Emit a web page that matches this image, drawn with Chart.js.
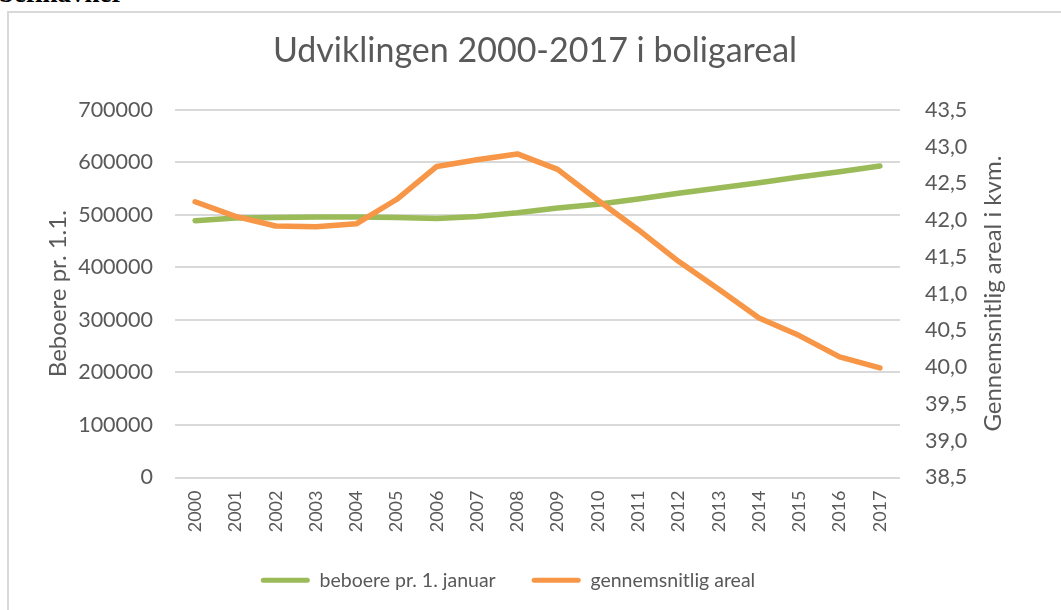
<!DOCTYPE html>
<html lang="da">
<head>
<meta charset="utf-8">
<script src="https://cdn.jsdelivr.net/npm/chart.js@4"></script>
<style>
  body { margin: 0; background: #fff; width: 1061px; height: 610px; overflow: hidden; position: relative; }
  #overskrift {
    position: absolute; left: -1px; top: -20px;
    font: bold 27px "Liberation Serif", serif; line-height: 27px; color: #000;
  }
  #ramme {
    position: absolute; left: 7px; top: 11px; width: 1054px; height: 599px;
    border-top: 2px solid #d9d9d9; border-left: 2px solid #d9d9d9;
  }
  #boks { position: absolute; left: 0; top: 0; width: 1052px; height: 597px; }
</style>
</head>
<body>
<div id="overskrift">befinavner</div>
<div id="ramme">
  <div id="boks"><canvas id="graf"></canvas></div>
</div>

<script>
// data
var aar = ["2000", "2001", "2002", "2003", "2004", "2005", "2006", "2007", "2008",
           "2009", "2010", "2011", "2012", "2013", "2014", "2015", "2016", "2017"];
var beboere = [489000, 494000, 495000, 496000, 496000, 495000, 493000, 497000, 504000,
               513000, 520000, 530000, 541000, 551000, 561000, 572000, 582000, 593000];
var areal = [42.25, 42.05, 41.92, 41.91, 41.95, 42.28, 42.73, 42.82, 42.90,
             42.69, 42.27, 41.87, 41.44, 41.06, 40.67, 40.43, 40.14, 39.99];
var venstreTicks = [0, 100000, 200000, 300000, 400000, 500000, 600000, 700000];
var hoejreTicks = ["38,5", "39,0", "39,5", "40,0", "40,5", "41,0", "41,5", "42,0", "42,5", "43,0", "43,5"];

var skrift = "Lato";
var tekstFarve = "#595959";
var gitterFarve = "#d9d9d9";

// højre aksetitel læses nedefra og op, så den tegnes selv
var hoejreTitel = {
    id: "hoejreTitel",
    afterDraw: function (chart) {
        var ctx = chart.ctx;
        var area = chart.chartArea;
        ctx.save();
        ctx.translate(984, (area.top + area.bottom) / 2);
        ctx.rotate(-Math.PI / 2);
        ctx.font = "24px " + skrift;
        ctx.fillStyle = tekstFarve;
        ctx.textAlign = "center";
        ctx.textBaseline = "middle";
        ctx.fillText("Gennemsnitlig areal i kvm.", 0, 0);
        ctx.restore();
    }
};

// forklaringen står lidt til venstre for midten i originalen
var flytForklaring = {
    id: "flytForklaring",
    afterLayout: function (chart) {
        if (chart.legend) {
            chart.legend.left -= 27;
            chart.legend.right -= 27;
        }
    }
};

function tegnGraf() {
    var datos = {
        labels: aar,
        datasets: [{
            label: "beboere pr. 1. januar",
            data: beboere,
            borderColor: "#9bbb59",
            backgroundColor: "#9bbb59",
            borderWidth: 5.5,
            yAxisID: "y",
            order: 1
        }, {
            label: "gennemsnitlig areal",
            data: areal,
            borderColor: "#f79646",
            backgroundColor: "#f79646",
            borderWidth: 5.5,
            yAxisID: "y1",
            order: 0
        }]
    };

    var config = {
        type: "line",
        data: datos,
        options: {
            responsive: true,
            maintainAspectRatio: false,
            animation: false,
            layout: { padding: { left: 0, right: 0, top: 0, bottom: 10 } },
            elements: {
                line: { tension: 0, borderCapStyle: "round", borderJoinStyle: "round" },
                point: { radius: 0, hoverRadius: 0 }
            },
            plugins: {
                title: {
                    display: true,
                    text: "Udviklingen 2000-2017 i boligareal",
                    color: tekstFarve,
                    font: { family: skrift, size: 34, weight: "normal" },
                    padding: { top: 18, bottom: 38 }
                },
                legend: {
                    position: "bottom",
                    labels: {
                        color: tekstFarve,
                        font: { family: skrift, size: 19.5 },
                        boxWidth: 49,
                        boxHeight: 5,
                        useBorderRadius: true,
                        borderRadius: 2.5,
                        padding: 36,
                        sort: function (a, b) { return a.datasetIndex - b.datasetIndex; },
                        generateLabels: function (chart) {
                            var lista = Chart.defaults.plugins.legend.labels.generateLabels(chart);
                            lista.forEach(function (l) {
                                l.lineWidth = 0;
                                l.strokeStyle = "rgba(0,0,0,0)";
                            });
                            return lista;
                        }
                    }
                },
                tooltip: { enabled: false }
            },
            scales: {
                x: {
                    offset: true,
                    grid: { display: false, drawTicks: false },
                    border: { display: false },
                    ticks: {
                        color: tekstFarve,
                        font: { family: skrift, size: 18 },
                        minRotation: 90,
                        maxRotation: 90,
                        padding: 13
                    },
                    afterFit: function (s) { s.height = 57; }
                },
                y: {
                    position: "left",
                    min: 0,
                    max: 700000,
                    afterBuildTicks: function (s) {
                        s.ticks = venstreTicks.map(function (v) { return { value: v }; });
                    },
                    grid: { color: gitterFarve, lineWidth: 2, drawTicks: false },
                    border: { display: false },
                    ticks: {
                        color: tekstFarve,
                        font: { family: skrift, size: 21.5 },
                        padding: 22,
                        callback: function (v) { return String(v); }
                    },
                    title: {
                        display: true,
                        text: "Beboere pr. 1.1.",
                        color: tekstFarve,
                        font: { family: skrift, size: 24 },
                        padding: { top: 35, bottom: 0 }
                    },
                    afterFit: function (s) { s.width = 166; }
                },
                y1: {
                    position: "right",
                    min: 38.5,
                    max: 43.5,
                    afterBuildTicks: function (s) {
                        s.ticks = hoejreTicks.map(function (t) {
                            return { value: parseFloat(t.replace(",", ".")) };
                        });
                    },
                    grid: { display: false, drawTicks: false },
                    border: { display: false },
                    ticks: {
                        color: tekstFarve,
                        font: { family: skrift, size: 21.5 },
                        padding: 25,
                        callback: function (v) { return v.toFixed(1).replace(".", ","); }
                    },
                    afterFit: function (s) { s.width = 161; }
                }
            }
        },
        plugins: [hoejreTitel, flytForklaring]
    };

    var grafico = document.getElementById("graf").getContext("2d");
    new Chart(grafico, config);
}

tegnGraf();
</script>
</body>
</html>
